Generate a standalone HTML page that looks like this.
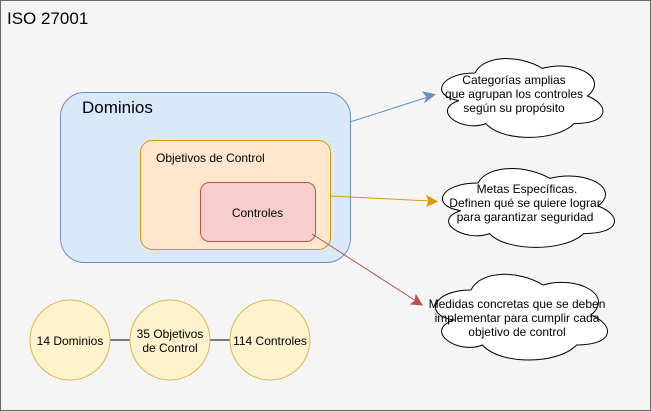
<!DOCTYPE html>
<html><head><meta charset="utf-8"><style>
html,body{margin:0;padding:0;background:#fff}
svg{display:block}
text{font-family:"Liberation Sans",Helvetica,Arial,sans-serif;fill:#000}
</style></head><body>
<svg width="651" height="411" viewBox="0 0 651 411" xmlns="http://www.w3.org/2000/svg">
<rect x="0.5" y="0.5" width="650" height="410" fill="#f5f5f5" stroke="#666"/>
<text x="7" y="24" font-size="17">ISO 27001</text>

<rect x="60.5" y="92.5" width="290" height="170" rx="24" fill="#dae8fc" stroke="#6c8ebf"/>
<text x="82" y="113" font-size="17">Dominios</text>
<rect x="140.5" y="140.5" width="190" height="109" rx="12" fill="#ffe6cc" stroke="#d79b00"/>
<text x="156" y="162" font-size="12">Objetivos de Control</text>
<rect x="200.5" y="182.5" width="115" height="59" rx="9" fill="#f8cecc" stroke="#b85450"/>
<text x="257.5" y="217" font-size="12" text-anchor="middle">Controles</text>

<!-- arrows -->
<line x1="350" y1="122" x2="428" y2="97" stroke="#6c8ebf"/>
<path d="M435,94.5 L425,102 L427,97 L423,92 Z" fill="#6c8ebf" stroke="#6c8ebf"/>
<line x1="330" y1="196" x2="430" y2="201" stroke="#d79b00"/>
<path d="M437,201.5 L427,206 L429,201 L427,196 Z" fill="#d79b00" stroke="#d79b00"/>
<line x1="312" y1="234" x2="416" y2="301" stroke="#b85450"/>
<path d="M422,305 L411,304 L415,301 L416,295 Z" fill="#b85450" stroke="#b85450"/>

<!-- clouds -->
<path d="M475,73 C439,73 430,96 458.8,100.6 C430,110.7 462.4,132.8 485.8,123.6 C502,142 556,142 574,123.6 C610,123.6 610,105.2 587.5,96 C610,77.6 574,59.2 542.5,68.4 C520,54.6 484,54.6 475,73 Z" fill="#fff" stroke="#000"/>
<path d="M478,183 C439.6,183 430,206 460.7,210.6 C430,220.7 464.6,242.8 489.5,233.6 C506.8,252 564.4,252 583.6,233.6 C622,233.6 622,215.2 598,206 C622,187.6 583.6,169.2 550,178.4 C526,164.6 487.6,164.6 478,183 Z" fill="#fff" stroke="#000"/>
<path d="M471,290 C432.6,290 423,315 453.7,320 C423,331 457.6,355 482.5,345 C499.8,365 557.4,365 576.6,345 C615,345 615,325 591,315 C615,295 576.6,275 543,285 C519,270 480.6,270 471,290 Z" fill="#fff" stroke="#000"/>
<text font-size="12" text-anchor="middle"><tspan x="514" y="84">Categorías amplias</tspan><tspan x="514" y="98">que agrupan los controles</tspan><tspan x="514" y="112">según su propósito</tspan></text>
<text font-size="12" text-anchor="middle"><tspan x="527" y="193">Metas Específicas.</tspan><tspan x="525" y="207">Definen qué se quiere lograr</tspan><tspan x="525" y="221">para garantizar seguridad</tspan></text>
<text font-size="12" text-anchor="middle"><tspan x="517" y="308">Medidas concretas que se deben</tspan><tspan x="517" y="322">implementar para cumplir cada</tspan><tspan x="517" y="336">objetivo de control</tspan></text>

<!-- circles -->
<line x1="110" y1="340" x2="130" y2="340" stroke="#000"/>
<line x1="210" y1="340" x2="230" y2="340" stroke="#000"/>
<circle cx="70" cy="340" r="40" fill="#fff2cc" stroke="#d6b656"/>
<circle cx="170" cy="340" r="40" fill="#fff2cc" stroke="#d6b656"/>
<circle cx="270" cy="340" r="40" fill="#fff2cc" stroke="#d6b656"/>
<text x="70" y="345" font-size="12" text-anchor="middle">14 Dominios</text>
<text font-size="12" text-anchor="middle"><tspan x="170" y="338">35 Objetivos</tspan><tspan x="170" y="352">de Control</tspan></text>
<text x="270" y="345" font-size="12" text-anchor="middle">114 Controles</text>
</svg>
</body></html>
